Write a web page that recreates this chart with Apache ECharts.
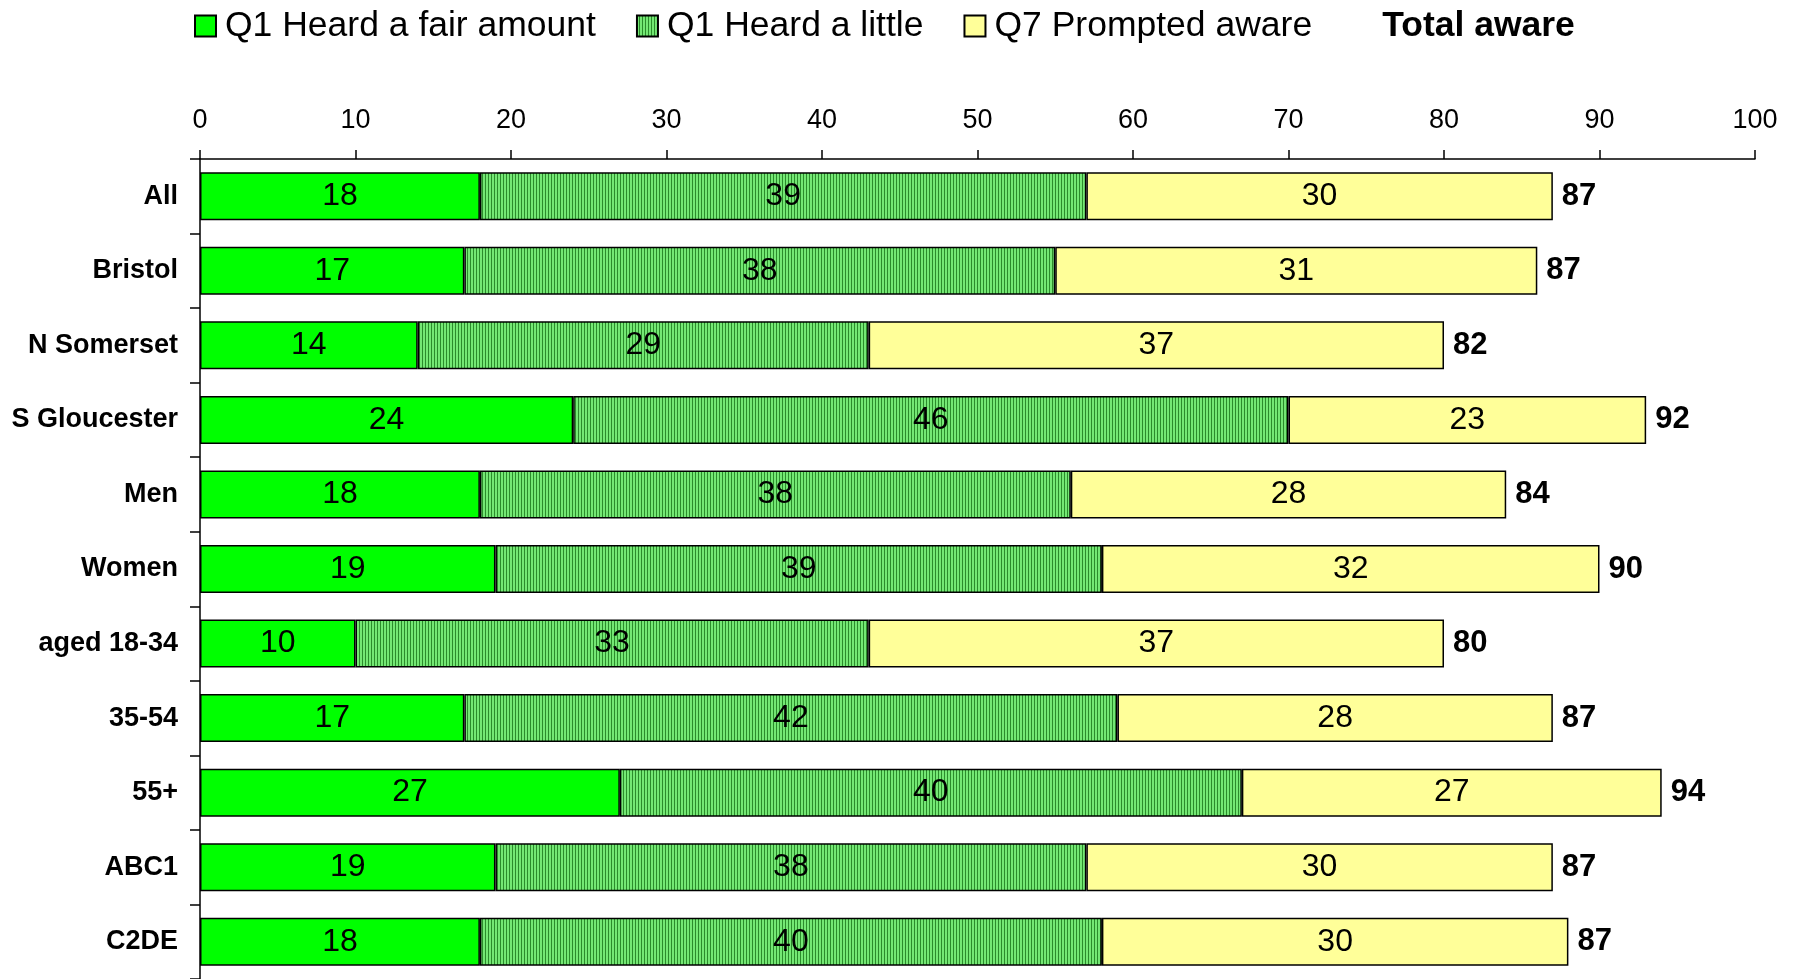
<!DOCTYPE html>
<html>
<head>
<meta charset="utf-8">
<script src="https://cdn.jsdelivr.net/npm/echarts@6/dist/echarts.min.js"></script>
<style>
  html, body { margin: 0; padding: 0; background: #fff; }
  #chart { width: 1796px; height: 979px; }
</style>
</head>
<body>
<div id="chart"></div>
<script>
// categories, top to bottom
const categories = ['All', 'Bristol', 'N Somerset', 'S Gloucester', 'Men', 'Women',
  'aged 18-34', '35-54', '55+', 'ABC1', 'C2DE'];
const fairAmount = [18, 17, 14, 24, 18, 19, 10, 17, 27, 19, 18];
const heardLittle = [39, 38, 29, 46, 38, 39, 33, 42, 40, 38, 40];
const promptedAware = [30, 31, 37, 23, 28, 32, 37, 28, 27, 30, 30];
const totalAware = [87, 87, 82, 92, 84, 90, 80, 87, 94, 87, 87];

// vertical hatch for "heard a little"
function hatch() {
  const c = document.createElement('canvas');
  c.width = 3; c.height = 3;
  const ctx = c.getContext('2d');
  ctx.fillStyle = '#74e874';
  ctx.fillRect(0, 0, 3, 3);
  ctx.fillStyle = '#2b8c2b';
  ctx.fillRect(2, 0, 1, 3);
  return c;
}

const font = 'Liberation Sans, Arial, sans-serif';
const border = { borderColor: '#000', borderWidth: 1.5 };
const innerLabel = { show: true, position: 'inside', color: '#000', fontSize: 32, fontFamily: font };

const chart = echarts.init(document.getElementById('chart'));
chart.setOption({
  animation: false,
  textStyle: { fontFamily: font },
  legend: {
    left: 189, top: 3,
    icon: 'rect',
    itemWidth: 21, itemHeight: 21, itemGap: 40,
    itemStyle: { borderColor: '#000', borderWidth: 2 },
    textStyle: { fontSize: 35.5, color: '#000', fontFamily: font, padding: [0, 0, 0, 4] },
    data: [
      'Q1 Heard a fair amount',
      'Q1 Heard a little',
      'Q7 Prompted aware',
      {
        name: 'Total aware',
        itemStyle: { color: 'transparent', borderWidth: 0, opacity: 0 },
        textStyle: { fontWeight: 'bold' }
      }
    ]
  },
  grid: { left: 200, right: 41, top: 159, bottom: -3 },
  xAxis: {
    type: 'value', position: 'top',
    min: 0, max: 100, interval: 10,
    axisLine: { show: true, lineStyle: { color: '#000', width: 1.5 } },
    axisTick: { show: true, length: 9, lineStyle: { color: '#000', width: 1.5 } },
    axisLabel: { fontSize: 27, color: '#000', margin: 25 },
    splitLine: { show: false }
  },
  yAxis: {
    type: 'category', inverse: true, data: categories,
    axisLine: { show: true, lineStyle: { color: '#000', width: 1.5 } },
    axisTick: { show: true, length: 10, lineStyle: { color: '#000', width: 1.5 } },
    axisLabel: { fontSize: 27, fontWeight: 'bold', color: '#000', margin: 22 }
  },
  series: [
    {
      name: 'Q1 Heard a fair amount', type: 'bar', stack: 'aware', barWidth: 48,
      itemStyle: Object.assign({ color: '#00ff00' }, border),
      label: innerLabel, data: fairAmount
    },
    {
      name: 'Q1 Heard a little', type: 'bar', stack: 'aware', barWidth: 48,
      itemStyle: Object.assign({ color: { image: hatch(), repeat: 'repeat' } }, border),
      label: innerLabel, data: heardLittle
    },
    {
      name: 'Q7 Prompted aware', type: 'bar', stack: 'aware', barWidth: 48,
      itemStyle: Object.assign({ color: '#ffff99' }, border),
      label: innerLabel, data: promptedAware
    },
    {
      name: 'Total aware', type: 'bar', stack: 'aware', barWidth: 48,
      itemStyle: { color: 'transparent', borderWidth: 0 },
      label: {
        show: true, position: 'right', distance: 9, color: '#000',
        fontSize: 31, fontWeight: 'bold', fontFamily: font,
        formatter: p => totalAware[p.dataIndex]
      },
      data: totalAware.map(() => 0)
    }
  ]
});
</script>
</body>
</html>
